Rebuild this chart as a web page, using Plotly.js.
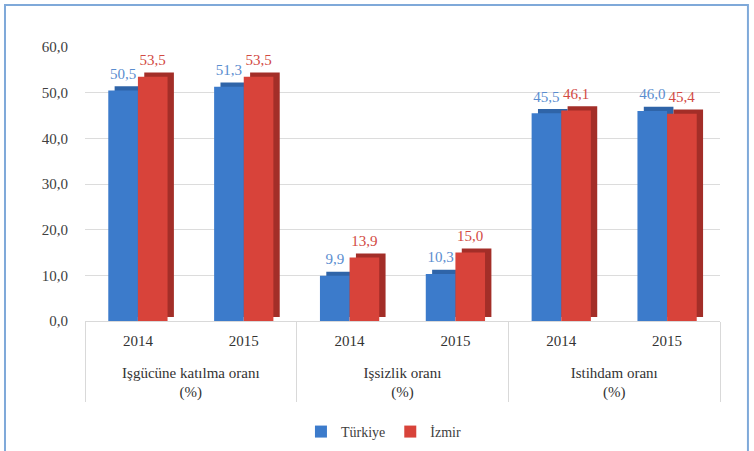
<!DOCTYPE html>
<html>
<head>
<meta charset="utf-8">
<script src="https://cdn.plot.ly/plotly-3.0.1.min.js"></script>
<style>html,body{margin:0;padding:0;background:#fff;}#chart{width:754px;height:451px;}</style>
</head>
<body>
<div id="chart"></div>
<script>
const groups = ["<br>Işgücüne katılma oranı<br>(%)", "<br>Işsizlik oranı<br>(%)", "<br>Istihdam oranı<br>(%)"];
const years = ["2014", "2015"];
const turkiye = [50.5, 51.3, 9.9, 10.3, 45.5, 46.0];
const izmir = [53.5, 53.5, 13.9, 15.0, 46.1, 45.4];
const yTicks = [0, 10, 20, 30, 40, 50, 60];

const lvl0 = [], lvl1 = [];
groups.forEach(g => years.forEach(y => { lvl0.push(g); lvl1.push(y); }));
const x = [lvl0, lvl1];
const fmt = v => v.toFixed(1).replace('.', ',');
const serif = "Liberation Serif";

const W = 0.28, D = 0.06, DB = 0.9;
function depth(vals, off, color) {
  return {type: 'bar', x: x, y: vals, base: DB, offset: off + D, width: W,
    marker: {color: color}, showlegend: false, hoverinfo: 'skip'};
}
function front(vals, off, color, name) {
  return {type: 'bar', x: x, y: vals, offset: off, width: W, name: name,
    marker: {color: color, line: {width: 0}}};
}
function labels(vals, off, color) {
  return {type: 'bar', x: x, y: vals, base: DB + 0.3, offset: off, width: W,
    marker: {color: 'rgba(0,0,0,0)'}, text: vals.map(fmt), textposition: 'outside',
    textfont: {family: serif, size: 15, color: color}, cliponaxis: false,
    showlegend: false, hoverinfo: 'skip'};
}

const data = [
  depth(turkiye, -W, '#2F64A8'),
  front(turkiye, -W, '#3C7BCB', 'Türkiye'),
  depth(izmir, 0, '#A32E28'),
  front(izmir, 0, '#D8433A', 'İzmir'),
  labels(turkiye, -W, '#5A8DCF'),
  labels(izmir, 0, '#D24A43')
];

const layout = {
  width: 754, height: 451,
  margin: {l: 85, r: 34, t: 47, b: 130, autoexpand: false},
  paper_bgcolor: '#ffffff', plot_bgcolor: '#ffffff',
  barmode: 'overlay',
  separators: ',.',
  font: {family: serif, color: '#404040'},
  showlegend: true,
  legend: {orientation: 'h', x: 0.47, xanchor: 'center', y: -0.405, yanchor: 'middle',
    font: {family: serif, size: 14, color: '#404040'}, itemwidth: 30},
  xaxis: {type: 'multicategory', automargin: false, showline: true, linecolor: '#d9d9d9', linewidth: 1,
    showdividers: true, dividercolor: '#d9d9d9', dividerwidth: 1, ticklabelstandoff: 6,
    tickfont: {family: serif, size: 15, color: '#333333'}, showgrid: false},
  yaxis: {range: [0, 60], automargin: false, tickvals: yTicks, tickformat: '.1f', showgrid: true,
    gridcolor: '#dcdcdc', zeroline: false, showline: false, ticklabelstandoff: 16,
    tickfont: {family: serif, size: 15, color: '#404040'}},
  shapes: [{type: 'rect', xref: 'paper', yref: 'paper',
    x0: -0.126, x1: 1.044, y0: -0.6, y1: 1.153,
    line: {color: '#7FA9D9', width: 2}, fillcolor: 'rgba(0,0,0,0)', layer: 'below'}],
  annotations: [{xref: 'paper', yref: 'paper', x: 0.62, y: 1.168, yanchor: 'bottom',
    text: 'İşgücü göstergeleri (%), Türkiye ve İzmir (2014-2015)', showarrow: false,
    font: {family: serif, size: 14, color: '#222'}}]
};

Plotly.newPlot('chart', data, layout, {displayModeBar: false, staticPlot: true});
</script>
</body>
</html>
